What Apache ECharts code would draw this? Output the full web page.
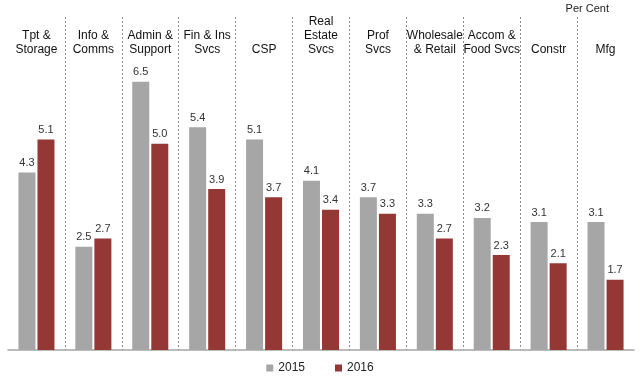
<!DOCTYPE html>
<html><head><meta charset="utf-8">
<script src="https://cdn.jsdelivr.net/npm/echarts@6/dist/echarts.min.js"></script>
<style>html,body{margin:0;padding:0;background:#fff}#c{width:640px;height:390px}</style>
</head><body><div id="c"></div>
<script>
const categories = ["Tpt &\nStorage","Info &\nComms","Admin &\nSupport","Fin & Ins\nSvcs","CSP","Real\nEstate\nSvcs","Prof\nSvcs","Wholesale\n& Retail","Accom &\nFood Svcs","Constr","Mfg"];
const values2015 = [4.3,2.5,6.5,5.4,5.1,4.1,3.7,3.3,3.2,3.1,3.1];
const values2016 = [5.1,2.7,5.0,3.9,3.7,3.4,3.3,2.7,2.3,2.1,1.7];
const seriesNames = ["2015","2016"];
const font = "'Liberation Sans', Arial, sans-serif";
const chart = echarts.init(document.getElementById('c'));
const lbl = {show:true, position:'top', distance:4, fontSize:11, fontFamily:font, color:'#333', formatter:p=>p.value.toFixed(1)};
chart.setOption({
  animation:false,
  grid:{left:8,right:6,top:17,bottom:40},
  title:{text:'Per Cent', right:26, top:-2, textStyle:{fontSize:11, fontWeight:'normal', fontFamily:font, color:'#222'}},
  legend:{bottom:11, left:'center', itemWidth:7, itemHeight:7, itemGap:30, icon:'rect',
    textStyle:{fontSize:12, fontFamily:font, color:'#222'}, data:seriesNames},
  xAxis:[{type:'category', data:categories, position:'bottom',
    axisLine:{lineStyle:{color:'#a6a6a6', width:1.5}}, axisTick:{show:false}, axisLabel:{show:false},
    splitLine:{show:true, interval:0, showMinLine:false, showMaxLine:false, lineStyle:{color:'#8c8c8c', type:[2,2], width:1}}},
   {type:'category', data:categories, position:'top',
    axisLine:{show:false}, axisTick:{show:false},
    axisLabel:{inside:true, interval:0, margin:40, verticalAlign:'bottom', fontSize:12, lineHeight:14, fontFamily:font, color:'#111'}}],
  yAxis:{type:'value', min:0, max:8.07, show:false, splitLine:{show:false}},
  series:[
    {name:seriesNames[0], type:'bar', data:values2015, barWidth:17, barGap:'12%', itemStyle:{color:'#a6a6a6'}, label:lbl},
    {name:seriesNames[1], type:'bar', data:values2016, barWidth:17, itemStyle:{color:'#953735'}, label:lbl}
  ]
});
</script></body></html>
